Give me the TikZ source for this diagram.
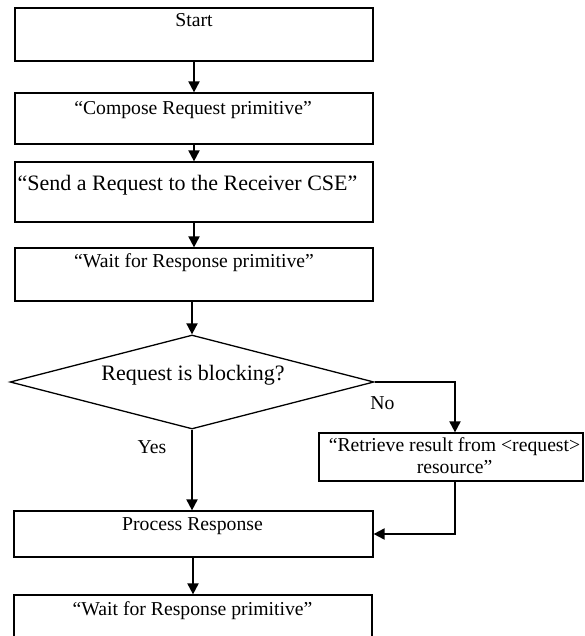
\documentclass[tikz,border=0pt]{standalone}
\usepackage{fontspec}
\setmainfont{Liberation Serif}
\usetikzlibrary{arrows.meta,shapes.geometric}
\begin{document}
\begin{tikzpicture}[x=1pt,y=-1pt,
  box/.style={draw,rectangle,line width=1.2pt,inner sep=0pt},
  decision/.style={draw,diamond,line width=1.3pt,inner sep=0pt},
  lbl/.style={font=\fontsize{19.7}{22}\selectfont,inner sep=0pt,anchor=base},
  biglbl/.style={lbl,font=\fontsize{22}{25}\selectfont},
  flow/.style={line width=1.9pt,-{Triangle[length=11pt,width=11pt]}}]
\useasboundingbox (0,0) rectangle (584,636);
\clip (0,0) rectangle (584,636);

% process boxes
\node[box,minimum width=358pt,minimum height=53pt] (b1) at (194,34.5) {};
\node[box,minimum width=358pt,minimum height=51pt] (b2) at (194,118.5) {};
\node[box,minimum width=358pt,minimum height=60pt] (b3) at (194,192) {};
\node[box,minimum width=358pt,minimum height=53pt] (b4) at (194,274.5) {};
\node[decision,minimum width=364pt,minimum height=94pt] (dec) at (192,382) {};
\node[box,minimum width=264pt,minimum height=48pt] (ret) at (451,457) {};
\node[box,minimum width=359pt,minimum height=46pt] (proc) at (193.5,534) {};
\node[box,minimum width=358pt,minimum height=60pt] (last) at (193,625) {};

% texts
\node[lbl] (t1) at (194,27) {Start};
\node[lbl] (t2) at (193,115) {“Compose Request primitive”};
\node[biglbl] (t3) at (187.5,190) {“Send a Request to the Receiver CSE”};
\node[lbl] (t4) at (194,267) {“Wait for Response primitive”};
\node[biglbl] (td) at (193,380) {Request is blocking?};
\node[lbl] (r1) at (454.5,451.3) {“Retrieve result from <request>};
\node[lbl] (r2) at (454.5,473.3) {resource”};
\node[lbl] (tp) at (192.5,530.7) {Process Response};
\node[lbl] (tl) at (192.5,615) {“Wait for Response primitive”};
\node[lbl] (yes) at (152,453) {Yes};
\node[lbl] (no) at (382.5,409) {No};

% connectors
\draw[flow] (b1.south) -- (b2.north);
\draw[flow] (b2.south) -- (b3.north);
\draw[flow] (b3.south) -- (b4.north);
\draw[flow] (dec.north |- b4.south) -- (dec.north);
\draw[flow] (dec.south) -- (dec.south |- proc.north);
\draw[flow] (dec.east) -| ([xshift=4pt]ret.north);
\draw[flow] ([xshift=4pt]ret.south) |- (proc.east);
\draw[flow] (proc.south -| last.north) -- (last.north);
\end{tikzpicture}
\end{document}
